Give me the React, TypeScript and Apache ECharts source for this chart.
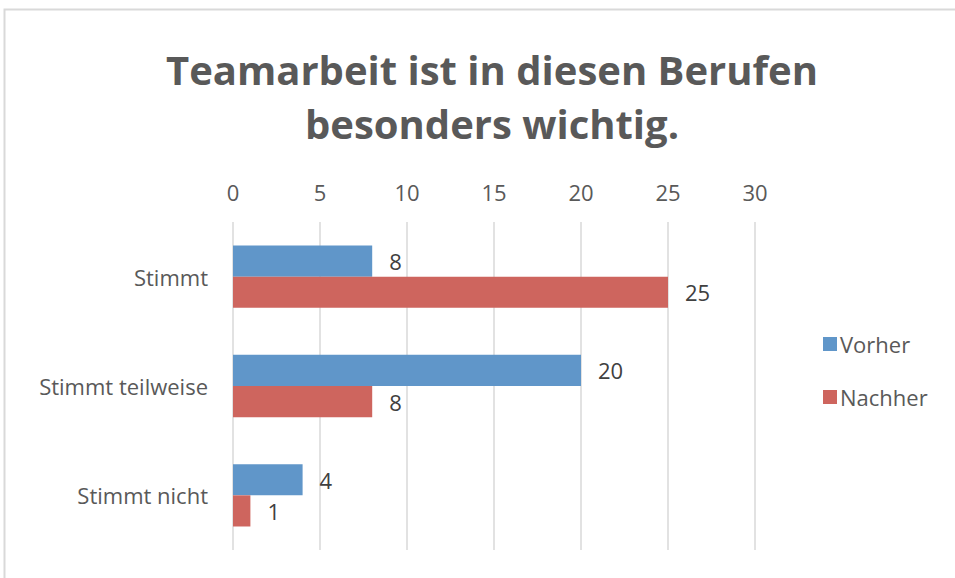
import React, { useEffect, useRef } from "react";
import * as echarts from "echarts";

const titleText = "Teamarbeit ist in diesen Berufen\nbesonders wichtig.";
const categories = ["Stimmt", "Stimmt teilweise", "Stimmt nicht"];
const vorher = [8, 20, 4];
const nachher = [25, 8, 1];
const seriesNames = ["Vorher", "Nachher"];

export default function App() {
  const ref = useRef<HTMLDivElement>(null);
  useEffect(() => {
    if (!ref.current) return;
    const chart = echarts.init(ref.current, undefined, { renderer: "svg" });
    const font = "'Open Sans', sans-serif";
    chart.setOption({
      animation: false,
      backgroundColor: "#ffffff",
      textStyle: { fontFamily: font },
      graphic: [
        {
          type: "rect",
          shape: { x: 4.5, y: 9.5, width: 1000, height: 700 },
          style: { fill: "none", stroke: "#d9d9d9", lineWidth: 2 },
          silent: true,
        },
      ],
      title: {
        text: titleText,
        left: 487,
        textAlign: "center",
        top: 37,
        textStyle: {
          fontFamily: font,
          fontSize: 40,
          fontWeight: "bold",
          color: "#595959",
          lineHeight: 54,
        },
      },
      legend: {
        orient: "vertical",
        left: 818,
        top: 328,
        itemWidth: 14,
        itemHeight: 14,
        itemGap: 31,
        icon: "rect",
        textStyle: { fontFamily: font, fontSize: 22, color: "#595959", padding: [0, 0, 0, -2] },
        data: seriesNames,
      },
      grid: { left: 233, right: 200, top: 222, bottom: 28, containLabel: false },
      xAxis: {
        type: "value",
        position: "top",
        min: 0,
        max: 30,
        interval: 5,
        axisLine: { show: false },
        axisTick: { show: false },
        axisLabel: { fontFamily: font, fontSize: 22, color: "#595959", margin: 19 },
        splitLine: { show: true, lineStyle: { color: "#d9d9d9", width: 1.5 } },
      },
      yAxis: {
        type: "category",
        inverse: true,
        data: categories,
        axisLine: { show: false },
        axisTick: { show: false },
        axisLabel: { fontFamily: font, fontSize: 22, color: "#595959", margin: 25 },
      },
      series: [
        {
          name: seriesNames[0],
          type: "bar",
          data: vorher,
          itemStyle: { color: "#6096C9" },
          barGap: "0%",
          barCategoryGap: "43%",
          label: { show: true, position: "right", distance: 17, fontFamily: font, fontSize: 22, color: "#404040" },
        },
        {
          name: seriesNames[1],
          type: "bar",
          data: nachher,
          itemStyle: { color: "#CE655E" },
          barGap: "0%",
          barCategoryGap: "43%",
          label: { show: true, position: "right", distance: 17, fontFamily: font, fontSize: 22, color: "#404040" },
        },
      ],
    });
    return () => chart.dispose();
  }, []);
  return (
    <div
      ref={ref}
      style={{ position: "fixed", left: 0, top: 0, width: 955, height: 578 }}
    />
  );
}
